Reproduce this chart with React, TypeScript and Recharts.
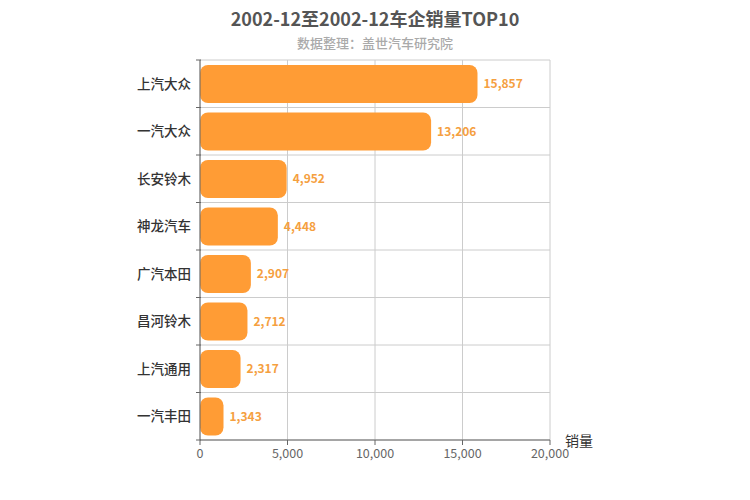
import React from "react";
import { BarChart, Bar, XAxis, YAxis, CartesianGrid, LabelList } from "recharts";

// ─── DATA ─────────────────────────────────────────────────────────────────────

const companies = ["上汽大众", "一汽大众", "长安铃木", "神龙汽车", "广汽本田", "昌河铃木", "上汽通用", "一汽丰田"];
const sales = [15857, 13206, 4952, 4448, 2907, 2712, 2317, 1343];
const xTicks = [0, 5000, 10000, 15000, 20000];

const data = companies.map((name, i) => ({ name, sales: sales[i] }));

const FONT = '"Noto Sans CJK SC", "Noto Sans", sans-serif';
const W = 750;
const H = 500;
const TOP = 60;
const BOTTOM = 60;
const BAND = (H - TOP - BOTTOM) / companies.length;

const fmt = (v: number) => v.toLocaleString("en-US");

// Category label at the band centre, tick mark on the band boundary
function CategoryTick({ x, y, payload, index }: any) {
  return (
    <g>
      <line x1={x + 4} x2={x + 9} y1={y - BAND / 2} y2={y - BAND / 2} stroke="#666" />
      {index === companies.length - 1 && (
        <line x1={x + 4} x2={x + 9} y1={y + BAND / 2} y2={y + BAND / 2} stroke="#666" />
      )}
      <text x={x - 1} y={y} dy={5} textAnchor="end" fill="#333" fontSize={13.5} fontWeight={500} fontFamily={FONT}>
        {payload.value}
      </text>
    </g>
  );
}

export default function App() {
  return (
    <div style={{ position: "absolute", left: 0, top: 0, width: W, height: H, background: "#fff", fontFamily: FONT }}>
      <div style={{ position: "absolute", top: 5, width: W, textAlign: "center", fontSize: 18, fontWeight: 700, color: "#555" }}>
        2002-12至2002-12车企销量TOP10
      </div>
      <div style={{ position: "absolute", top: 33, width: W, textAlign: "center", fontSize: 13, fontWeight: 500, color: "#aaa" }}>
        数据整理：盖世汽车研究院
      </div>
      <div style={{ position: "absolute", left: 565, top: 430, fontSize: 14, color: "#333" }}>销量</div>

      <BarChart
        width={W}
        height={H}
        data={data}
        layout="vertical"
        margin={{ top: TOP, right: 200, bottom: 30, left: 0 }}
        barSize={38}
      >
        <CartesianGrid
          stroke="#ccc"
          horizontalCoordinatesGenerator={({ offset }: any) =>
            companies.map((_, i) => offset.top + i * BAND).concat(offset.top + companies.length * BAND)
          }
        />
        <XAxis
          type="number"
          domain={[0, 20000]}
          ticks={xTicks}
          tickFormatter={fmt}
          axisLine={{ stroke: "#666" }}
          tickLine={{ stroke: "#666" }}
          tickSize={5}
          tick={{ fill: "#666", fontSize: 12.5, fontFamily: FONT, dy: 2 }}
          height={30}
        />
        <YAxis
          type="category"
          dataKey="name"
          width={200}
          axisLine={{ stroke: "#666" }}
          tickLine={false}
          tick={<CategoryTick />}
        />
        <Bar dataKey="sales" fill="#ff9c35" radius={8} isAnimationActive={false}>
          <LabelList
            dataKey="sales"
            position="right"
            offset={6}
            formatter={(v: any) => fmt(Number(v))}
            fill="#f5a03f"
            fontSize={12}
            fontWeight={700}
            fontFamily={FONT}
          />
        </Bar>
      </BarChart>
    </div>
  );
}
